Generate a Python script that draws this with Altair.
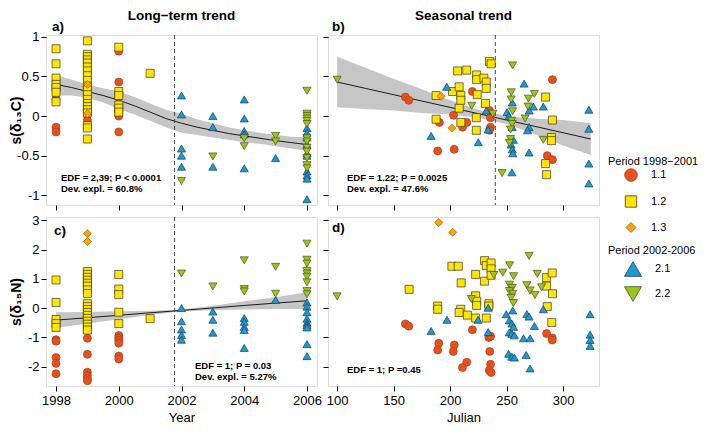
import altair as alt
import pandas as pd

FONT = "Liberation Sans"

GROUPS = ["1.1", "1.2", "1.3", "2.1", "2.2"]
SHAPES = ["circle", "square", "diamond", "triangle-up", "triangle-down"]
FILLS = ["#E9501D", "#FFE500", "#FFA300", "#1C9AD6", "#9DC41D"]
STROKES = ["#A8401C", "#3A3A2A", "#9A6400", "#1C3C50", "#48561A"]
PT_SIZES = [64, 66, 62, 125, 125]
LEG_SIZES = [160, 100, 225, 290, 290]

# ---------------- panel a : Year vs s(d13C)
A_11_X = [1998, 1998, 1998, 1999, 1999, 1999, 1999, 1999, 2000, 2000, 2000, 2000, 2000, 2000, 2000, 2000]
A_11_Y = [0.21, -0.14, -0.20, 0.31, 0.27, 0.24, 0.02, -0.05, 0.82, 0.43, 0.24, 0.13, 0.10, 0.05, 0.00, -0.20]
A_12_X = [1998, 1998, 1998, 1998, 1998, 1998, 1998,
          1999, 1999, 1999, 1999, 1999, 1999, 1999, 1999, 1999, 1999,
          1999, 1999, 1999, 1999, 1999, 1999, 1999, 1999, 1999, 1999,
          2000, 2000, 2000, 2000, 2000, 2000, 2001]
A_12_Y = [0.85, 0.66, 0.48, 0.40, 0.36, 0.30, 0.18,
          0.95, 0.78, 0.75, 0.71, 0.67, 0.62, 0.57, 0.51, 0.45, 0.38,
          0.33, 0.27, 0.21, 0.16, 0.12, 0.08, 0.04, -0.12, -0.15, -0.29,
          0.87, 0.31, 0.26, 0.14, 0.10, 0.05, 0.54]
A_13_X = [1999, 1999]
A_13_Y = [0.40, 0.03]
A_21_X = [2002, 2002, 2002, 2002, 2002, 2003, 2003, 2003, 2004, 2004, 2004, 2004, 2004, 2005,
          2006, 2006, 2006, 2006, 2006, 2006, 2006, 2006, 2006, 2006]
A_21_Y = [0.26, 0.02, -0.41, -0.50, -0.64, 0.00, -0.14, -0.64, 0.21, -0.03, -0.19, -0.23, -0.66, -0.53,
          -0.15, -0.21, -0.27, -0.36, -0.47, -0.50, -0.70, -0.75, -0.79, -1.05]
A_22_X = [2002, 2003, 2004, 2004, 2005, 2005,
          2006, 2006, 2006, 2006, 2006, 2006, 2006, 2006, 2006, 2006, 2006, 2006, 2006]
A_22_Y = [-0.82, -0.51, -0.28, -0.38, -0.25, -0.32,
          0.32, 0.03, 0.00, -0.03, -0.06, -0.10, -0.28, -0.32, -0.40, -0.45, -0.53, -0.62, -0.66]
A_FIT_X = [1998, 1998.5, 1999, 1999.5, 2000, 2000.5, 2001, 2001.5, 2002, 2002.5, 2003, 2003.5, 2004, 2004.5, 2005, 2005.5, 2006]
A_FIT = [0.40, 0.36, 0.31, 0.26, 0.20, 0.13, 0.05, -0.03, -0.09, -0.14, -0.18, -0.22, -0.25, -0.28, -0.31, -0.335, -0.36]
A_LO = [0.26, 0.26, 0.23, 0.17, 0.09, 0.02, -0.06, -0.14, -0.21, -0.24, -0.27, -0.30, -0.33, -0.35, -0.38, -0.41, -0.44]
A_HI = [0.52, 0.46, 0.40, 0.35, 0.31, 0.24, 0.16, 0.08, 0.03, -0.04, -0.09, -0.14, -0.18, -0.21, -0.24, -0.26, -0.27]

# ---------------- panel b : Julian vs s(d13C)
B_11_X = [160.4, 163.4, 190.5, 189.0, 203.0, 211.0, 214.7, 203.6, 219.7, 234.8, 235.7, 235.7, 234.8, 290.6, 286.0, 290.6]
B_11_Y = [0.24, 0.20, -0.08, -0.44, 0.01, -0.14, -0.08, -0.42, 0.31, 0.07, -0.02, -0.14, -0.18, 0.46, -0.50, -0.55]
B_12_X = [187.6, 187.6, 202.2, 206.6, 208.0, 208.0, 209.5, 209.5, 209.5, 214.7, 223.5, 223.5, 224.0, 223.2,
          223.2, 229.9, 232.0, 232.0, 231.3, 234.9, 236.3, 284.5, 290.6, 289.7, 289.7, 284.5, 285.4]
B_12_Y = [0.26, -0.04, 0.31, 0.57, 0.37, 0.10, 0.26, 0.20, -0.08, 0.58, 0.52, 0.46, 0.27, -0.02,
          -0.18, 0.48, 0.43, 0.35, 0.16, 0.69, 0.66, 0.24, -0.05, -0.27, -0.31, -0.60, -0.74]
B_13_X = [192.0, 201.6]
B_13_Y = [0.25, -0.15]
B_21_X = [183.2, 197.0, 225.0, 232.0, 233.7, 265.5, 255.0, 273.7, 282.5, 270.0, 322.8, 250.4, 252.0,
          255.0, 269.9, 268.5, 322.8, 256.0, 254.0, 255.0, 255.5, 269.9, 254.7, 322.8, 322.8]
B_21_Y = [-0.25, 0.37, -0.33, 0.07, -0.17, 0.41, 0.17, 0.12, 0.12, 0.07, 0.08, 0.05, 0.00,
          -0.14, -0.14, -0.18, -0.16, -0.30, -0.36, -0.42, -0.47, -0.46, -0.71, -0.60, -0.85]
B_22_X = [100.0, 219.1, 237.8, 246.0, 255.3, 254.1, 254.0, 274.6, 269.4, 269.0, 255.3, 266.4, 254.5,
          255.0, 253.5, 253.5, 282.5, 252.5]
B_22_Y = [0.46, 0.13, 0.03, -0.72, 0.64, 0.30, 0.21, 0.28, 0.22, 0.12, 0.06, -0.03, -0.06,
          -0.10, -0.17, -0.29, -0.30, -0.34]
B_FIT_X = [100, 125, 150, 175, 200, 225, 250, 275, 300, 324.5]
B_FIT = [0.43, 0.35, 0.27, 0.19, 0.11, 0.03, -0.05, -0.13, -0.21, -0.29]
B_LO = [0.11, 0.09, 0.07, 0.04, 0.02, -0.02, -0.10, -0.23, -0.37, -0.49]
B_HI = [0.75, 0.61, 0.47, 0.34, 0.20, 0.08, 0.00, -0.03, -0.05, -0.09]

# ---------------- panel c : Year vs s(d15N)
C_11_X = [1998, 1998, 1998, 1998, 1998, 1999, 1999, 1999, 1999, 1999, 1999, 2000, 2000, 2000, 2000, 2000, 2000]
C_11_Y = [-1.08, -1.13, -1.69, -1.89, -2.24, -1.03, -1.58, -2.19, -2.30, -2.41, -2.48, -0.94, -1.02, -1.10, -1.20, -1.64, -1.74]
C_12_X = [1998, 1998, 1998, 1998, 1998,
          1999, 1999, 1999, 1999, 1999, 1999, 1999, 1999, 1999,
          1999, 1999, 1999, 1999, 1999, 1999, 1999, 1999, 1999,
          2000, 2000, 2000, 2000, 2000, 2001]
C_12_Y = [0.96, 0.19, -0.39, -0.53, -0.66,
          1.25, 1.15, 1.05, 0.95, 0.85, 0.75, 0.62, 0.50, 0.15,
          0.05, -0.05, -0.15, -0.25, -0.35, -0.45, -0.55, -0.65, -0.75,
          1.15, 0.65, 0.46, -0.14, -0.53, -0.36]
C_13_X = [1999, 1999]
C_13_Y = [2.54, 2.27]
C_21_X = [2002, 2002, 2002, 2002, 2002, 2003, 2003, 2003, 2004, 2004, 2004, 2004, 2004, 2005,
          2006, 2006, 2006, 2006, 2006, 2006, 2006, 2006, 2006]
C_21_Y = [0.00, -0.45, -0.73, -0.92, -1.08, -0.12, -0.40, -0.84, -0.34, -0.47, -0.64, -0.75, -1.36, 0.28,
          0.19, 0.05, -0.14, -0.36, -0.50, -0.58, -0.66, -1.23, -1.64]
C_22_X = [2002, 2003, 2004, 2004, 2004, 2005, 2005,
          2006, 2006, 2006, 2006, 2006, 2006, 2006, 2006, 2006]
C_22_Y = [1.18, 0.74, 1.63, 0.65, 0.57, 1.41, 0.49,
          2.20, 1.65, 1.52, 1.27, 1.18, 1.07, 0.88, 0.58, 0.47]
C_FIT_X = [1998, 1999, 2000, 2001, 2002, 2003, 2004, 2005, 2006]
C_FIT = [-0.41, -0.33, -0.245, -0.16, -0.08, 0.005, 0.09, 0.17, 0.25]
C_LO = [-0.68, -0.53, -0.38, -0.235, -0.11, -0.07, -0.05, -0.03, -0.04]
C_HI = [-0.14, -0.13, -0.11, -0.09, -0.05, 0.08, 0.23, 0.37, 0.54]

# ---------------- panel d : Julian vs s(d15N)
D_11_X = [160.4, 163.4, 190.0, 189.0, 203.7, 202.8, 214.7, 210.9, 219.7, 234.3, 235.8, 235.1, 235.8, 234.7,
          236.3, 285.4, 290.4, 290.4]
D_11_Y = [-0.54, -0.62, -1.20, -1.43, -1.26, -1.48, -1.85, -2.03, -0.74, -1.00, -0.96, -1.48, -1.92, -2.12,
          -2.20, -0.87, -1.02, -1.09]
D_12_X = [163.7, 189.0, 189.0, 201.6, 207.2, 209.8, 209.4, 208.0, 215.3, 222.6, 222.6, 222.6, 223.5, 223.5,
          230.5, 232.0, 236.3, 230.5, 236.3, 236.3, 232.0, 234.3, 234.3, 285.4, 290.4, 285.4, 290.6, 286.0, 290.0]
D_12_Y = [0.64, 0.07, -0.04, 1.43, 1.43, 0.86, -0.04, -0.15, -0.24, -0.34, 1.15, 0.42, 0.23, 0.09,
          1.62, 1.45, 1.54, 0.92, 1.34, 1.12, -0.34, 0.15, 0.07, 1.04, 1.20, 0.75, 0.49, 0.05, -0.49]
D_13_X = [189.9, 202.2]
D_13_Y = [2.92, 2.59]
D_21_X = [183.2, 197.2, 224.7, 233.7, 233.7, 249.7, 255.4, 252.4, 254.7, 256.2, 252.4, 254.7, 256.9, 251.8,
          254.7, 256.9, 267.9, 269.9, 282.5, 274.6, 265.0, 270.8, 267.3, 270.8, 323.9, 323.9, 323.9, 323.9]
D_21_Y = [-0.78, -0.40, -0.40, 0.01, -0.82, -0.21, -0.08, -0.42, -0.53, -0.64, -0.83, -0.88, -0.93, -1.56,
          -1.66, -1.69, -0.20, -0.29, -0.04, -0.61, -1.03, -1.03, -1.60, -2.06, -0.21, -0.91, -1.09, -1.29]
D_22_X = [100.0, 218.8, 238.7, 246.6, 252.7, 256.2, 252.5, 255.0, 252.5, 255.5, 254.0, 256.0, 269.9, 277.2,
          267.9, 270.8, 275.1, 281.0]
D_22_Y = [0.40, 0.31, 1.13, 1.21, 1.46, 1.09, 0.80, 0.69, 0.58, 0.49, 0.35, 0.17, 1.78, 1.17,
          0.78, 0.60, 0.45, 0.71]

BREAK_YEAR = [2001.78]
BREAK_JULIAN = [240]

YEAR_DOM = [1997.68, 2006.32]
JUL_DOM = [91.9, 331.8]
C13_DOM = [-1.123, 1.024]
N15_DOM = [-2.66, 3.11]
YEAR_TICKS = [1998, 2000, 2002, 2004, 2006]
JUL_TICKS = [100, 150, 200, 250, 300]
C13_TICKS = [-1, -0.5, 0, 0.5, 1]
N15_TICKS = [-2, -1, 0, 1, 2, 3]

TITLE_A = "Long−term trend"
TITLE_B = "Seasonal trend"
YT_C = "s(δ₁₃C)"
YT_N = "s(δ₁₅N)"
STAT_A = ["EDF = 2,39; P < 0.0001", "Dev. expl. = 60.8%"]
STAT_B = ["EDF = 1.22; P = 0.0025", "Dev. expl. = 47.6%"]
STAT_C = ["EDF = 1; P = 0.03", "Dev. expl. = 5.27%"]
STAT_D = ["EDF = 1; P =0.45"]
LEG1_TITLE = "Period 1998−2001"
LEG2_TITLE = "Period 2002-2006"

W = 271
H1 = 170
H2 = 169


def points_df(pairs):
    frames = [pd.DataFrame({"x": xs, "y": ys, "g": g}) for (xs, ys), g in zip(pairs, GROUPS)]
    return pd.concat(frames, ignore_index=True)


def x_enc(field, dom, ticks, labels, title):
    return alt.X(f"{field}:Q", scale=alt.Scale(domain=dom, nice=False, zero=False),
                 axis=alt.Axis(values=ticks, labels=labels, title=title, grid=False, domain=False,
                               tickSize=5, tickColor="black", labelExpr="'' + datum.value",
                               labelFontSize=13, labelPadding=3, labelColor="black",
                               titleFontSize=13, titleFontWeight="normal", titleY=31,
                               titleBaseline="middle", labelFont=FONT, titleFont=FONT))


def y_enc(field, dom, ticks, labels, title, h):
    return alt.Y(f"{field}:Q", scale=alt.Scale(domain=dom, nice=False, zero=False),
                 axis=alt.Axis(values=ticks, labels=labels, title=title, grid=False, domain=False,
                               tickSize=5, tickColor="black", labelExpr="'' + datum.value",
                               labelFontSize=13, labelPadding=2, labelColor="black",
                               titleFontSize=14, titleFontWeight="bold", titleX=-30, titleY=h / 2,
                               titleBaseline="middle", labelFont=FONT, titleFont=FONT))


def note(text, x, y, size=9.5, weight="bold"):
    return alt.Chart(pd.DataFrame({"t": [text]})).mark_text(
        align="left", baseline="middle", font=FONT, fontSize=size, fontWeight=weight, color="black"
    ).encode(text="t:N", x=alt.value(x), y=alt.value(y))


def panel(pairs, xdom, xticks, ydom, yticks, xlab, ylab, xtitle, ytitle, h,
          fit=None, brk=None, notes=(), title=None):
    xe = lambda f: x_enc(f, xdom, xticks, xlab, xtitle)
    ye = lambda f: y_enc(f, ydom, yticks, ylab, ytitle, h)
    layers = []
    if fit is not None:
        fx, ff, flo, fhi = fit
        fdf = pd.DataFrame({"x": fx, "fit": ff, "lo": flo, "hi": fhi})
        layers.append(alt.Chart(fdf).mark_area(color="#C6C6C6", opacity=1).encode(
            x=xe("x"), y=ye("lo"), y2="hi:Q"))
        layers.append(alt.Chart(fdf).mark_line(color="#1a1a1a", strokeWidth=1).encode(
            x=xe("x"), y=ye("fit")))
    if brk is not None:
        layers.append(alt.Chart(pd.DataFrame({"x": brk})).mark_rule(
            color="#444444", strokeDash=[4, 3], strokeWidth=1).encode(x=xe("x")))
    df = points_df(pairs)
    layers.append(alt.Chart(df).mark_point(filled=True, opacity=1, strokeWidth=0.7).encode(
        x=xe("x"), y=ye("y"),
        fill=alt.Fill("g:N", scale=alt.Scale(domain=GROUPS, range=FILLS), legend=None),
        shape=alt.Shape("g:N", scale=alt.Scale(domain=GROUPS, range=SHAPES), legend=None),
        size=alt.Size("g:N", scale=alt.Scale(domain=GROUPS, range=PT_SIZES), legend=None),
        stroke=alt.Stroke("g:N", scale=alt.Scale(domain=GROUPS, range=STROKES), legend=None),
    ))
    for n in notes:
        layers.append(n)
    ch = alt.layer(*layers).properties(width=W, height=h)
    if title is not None:
        ch = ch.properties(title=alt.Title(title, fontSize=13.5, fontWeight="bold", font=FONT,
                                           anchor="middle", offset=-2.5, color="black"))
    return ch


pa = panel([(A_11_X, A_11_Y), (A_12_X, A_12_Y), (A_13_X, A_13_Y), (A_21_X, A_21_Y), (A_22_X, A_22_Y)],
           YEAR_DOM, YEAR_TICKS, C13_DOM, C13_TICKS, False, True, "", YT_C, H1,
           fit=(A_FIT_X, A_FIT, A_LO, A_HI), brk=BREAK_YEAR,
           notes=[note(STAT_A[0], 15, 143), note(STAT_A[1], 15, 154), note("a)", 6, -8, 13.5)],
           title=TITLE_A)
pb = panel([(B_11_X, B_11_Y), (B_12_X, B_12_Y), (B_13_X, B_13_Y), (B_21_X, B_21_Y), (B_22_X, B_22_Y)],
           JUL_DOM, JUL_TICKS, C13_DOM, C13_TICKS, False, False, "", "", H1,
           fit=(B_FIT_X, B_FIT, B_LO, B_HI), brk=BREAK_JULIAN,
           notes=[note(STAT_B[0], 19, 143), note(STAT_B[1], 19, 154), note("b)", 4, -8, 13.5)],
           title=TITLE_B)
pc = panel([(C_11_X, C_11_Y), (C_12_X, C_12_Y), (C_13_X, C_13_Y), (C_21_X, C_21_Y), (C_22_X, C_22_Y)],
           YEAR_DOM, YEAR_TICKS, N15_DOM, N15_TICKS, True, True, "Year", YT_N, H2,
           fit=(C_FIT_X, C_FIT, C_LO, C_HI), brk=BREAK_YEAR,
           notes=[note(STAT_C[0], 149, 149), note(STAT_C[1], 149, 160), note("c)", 8, 14, 13.5)])
pd_ = panel([(D_11_X, D_11_Y), (D_12_X, D_12_Y), (D_13_X, D_13_Y), (D_21_X, D_21_Y), (D_22_X, D_22_Y)],
            JUL_DOM, JUL_TICKS, N15_DOM, N15_TICKS, True, False, "Julian", "", H2,
            notes=[note(STAT_D[0], 19, 153), note("d)", 4, 11, 13.5)])

grid = alt.concat(pa, pb, pc, pd_, columns=2, spacing=alt.RowColnumber(row=12, column=11), bounds="flush")


def legend_layer(groups, title, ly, title_pad, row_pad):
    idx = [GROUPS.index(g) for g in groups]
    leg = alt.Legend(title=title, orient="none", legendX=7, legendY=ly, padding=0,
                     titleFont=FONT, titleFontSize=11, titleFontWeight="normal", titleColor="black",
                     titlePadding=title_pad, labelFont=FONT, labelFontSize=11, labelColor="black",
                     labelOffset=13, symbolOffset=16, rowPadding=row_pad, symbolStrokeWidth=0.8)
    sub = lambda arr: [arr[i] for i in idx]
    return alt.Chart(pd.DataFrame({"g": groups})).transform_filter("false").mark_point(
        filled=True, opacity=1, strokeWidth=0.8).encode(
        fill=alt.Fill("g:N", scale=alt.Scale(domain=groups, range=sub(FILLS)), legend=leg),
        shape=alt.Shape("g:N", scale=alt.Scale(domain=groups, range=sub(SHAPES)), legend=leg),
        size=alt.Size("g:N", scale=alt.Scale(domain=groups, range=sub(LEG_SIZES)), legend=leg),
        stroke=alt.Stroke("g:N", scale=alt.Scale(domain=groups, range=sub(STROKES)), legend=leg),
    )


legend_chart = alt.layer(
    legend_layer(GROUPS[:3], LEG1_TITLE, 121, 1, 11),
    legend_layer(GROUPS[3:], LEG2_TITLE, 210, 4, 7),
).resolve_scale(fill="independent", shape="independent", size="independent", stroke="independent").properties(
    width=60, height=200, view=alt.ViewBackground(stroke="transparent"))

chart = alt.hconcat(grid, legend_chart, spacing=0).properties(padding=0).configure_view(
    stroke="black", strokeWidth=1).configure(font=FONT)

chart.save("out.html", embed_options={"renderer": "svg", "actions": False})
